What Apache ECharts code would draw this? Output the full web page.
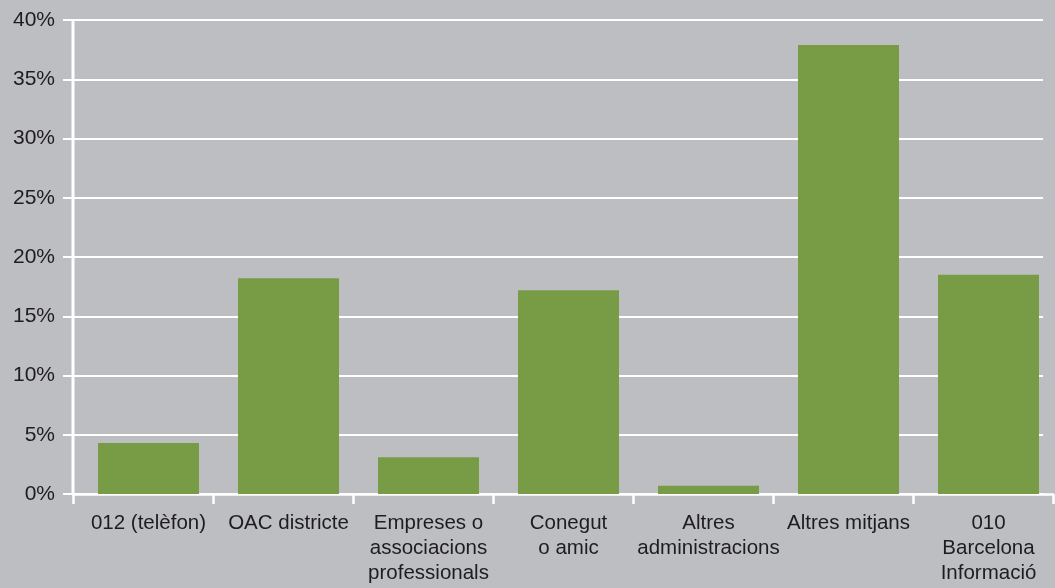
<!DOCTYPE html>
<html><head><meta charset="utf-8">
<script src="https://cdn.jsdelivr.net/npm/echarts@6/dist/echarts.min.js"></script>
<style>html,body{margin:0;padding:0;background:#bdbec2}#c{width:1055px;height:588px}</style>
</head><body><div id="c"></div>
<script>
const categories = ['012 (telèfon)', 'OAC districte', 'Empreses o\nassociacions\nprofessionals', 'Conegut\no amic', 'Altres\nadministracions', 'Altres mitjans', '010\nBarcelona\nInformació'];
const values = [4.3, 18.2, 3.1, 17.2, 0.7, 37.9, 18.5];
const yMin = 0, yMax = 40, yStep = 5;

const chart = echarts.init(document.getElementById('c'));
const font = 'Liberation Sans, Arial, Helvetica, sans-serif';
chart.setOption({
  backgroundColor: '#bdbec2',
  animation: false,
  grid: [
    {left: 73, width: 970, top: 20, bottom: 94},
    {left: 73, width: 980, top: 20, bottom: 94}
  ],
  xAxis: [
    {gridIndex: 0, type: 'category', data: categories, show: false},
    {gridIndex: 1, type: 'category', data: categories, boundaryGap: true,
     axisLine: {show: true, lineStyle: {color: '#ffffff', width: 2.5}},
     axisTick: {show: true, alignWithLabel: false, length: 10, lineStyle: {color: '#ffffff', width: 2.5}},
     axisLabel: {show: true, interval: 0, margin: 17, color: '#1f1c1d', fontSize: 20.5, lineHeight: 25,
                 fontFamily: font, align: 'center', padding: [0, 0, 0, 11]}}
  ],
  yAxis: [
    {gridIndex: 0, type: 'value', min: yMin, max: yMax, interval: yStep,
     axisLine: {show: false},
     axisTick: {show: true, length: 10, lineStyle: {color: '#ffffff', width: 2}},
     splitLine: {show: true, lineStyle: {color: '#ffffff', width: 2}},
     axisLabel: {formatter: '{value}%', margin: 18, color: '#1f1c1d', fontSize: 21, fontFamily: font}},
    {gridIndex: 1, type: 'value', min: yMin, max: yMax, interval: yStep, show: false}
  ],
  series: [
    {type: 'bar', name: 'spacer', xAxisIndex: 1, yAxisIndex: 1, data: categories.map(() => null), barWidth: 11, barGap: '0%',
     itemStyle: {color: 'rgba(0,0,0,0)'}, silent: true},
    {type: 'bar', name: 'values', xAxisIndex: 1, yAxisIndex: 1, data: values, barWidth: 101, barGap: '0%', z: 3,
     itemStyle: {color: '#789b45'}},
    {type: 'line', xAxisIndex: 0, yAxisIndex: 0, data: [], silent: true}
  ],
  graphic: [
    {type: 'line', shape: {x1: 73, y1: 20, x2: 73, y2: 495}, style: {stroke: '#ffffff', lineWidth: 3}, z: 10}
  ]
});
</script></body></html>
